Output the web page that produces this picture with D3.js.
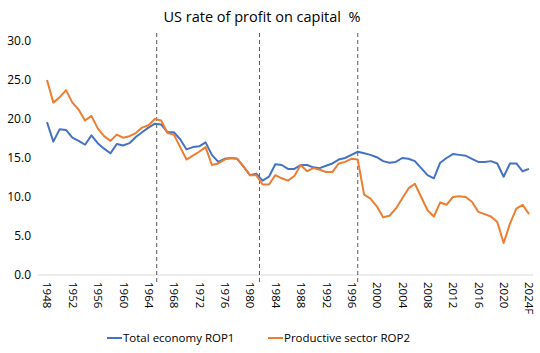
<!DOCTYPE html>
<html>
<head>
<meta charset="utf-8">
<script src="https://cdn.jsdelivr.net/npm/d3@7"></script>
<style>
	body { margin: 0; background: #fff; }
	text { font-family: 'Open Sans', 'Liberation Sans', sans-serif; fill: #000; }
</style>
</head>
<body>
<div id="chart"></div>
<script>
const years = d3.range(1948, 2025);
const totalEconomy = [
	19.6, 17.1, 18.7, 18.6, 17.6, 17.2, 16.7, 17.9, 16.9, 16.2,
	15.6, 16.8, 16.6, 16.9, 17.7, 18.3, 18.9, 19.4, 19.3, 18.3,
	18.3, 17.4, 16.1, 16.4, 16.5, 17.0, 15.4, 14.5, 14.9, 15.0,
	14.9, 13.9, 12.8, 13.0, 12.1, 12.6, 14.2, 14.1, 13.6, 13.6,
	14.1, 14.1, 13.8, 13.7, 14.0, 14.3, 14.8, 15.0, 15.4, 15.8,
	15.6, 15.4, 15.1, 14.6, 14.4, 14.5, 15.0, 14.9, 14.6, 13.7,
	12.8, 12.4, 14.4, 15.0, 15.5, 15.4, 15.3, 14.9, 14.5, 14.5,
	14.6, 14.3, 12.6, 14.3, 14.3, 13.3, 13.6
];
const productiveSector = [
	25.0, 22.1, 22.8, 23.7, 22.1, 21.2, 19.8, 20.4, 18.8, 17.8,
	17.2, 18.0, 17.6, 17.8, 18.2, 18.9, 19.2, 20.0, 19.8, 18.2,
	18.0, 16.4, 14.8, 15.3, 15.8, 16.4, 14.1, 14.3, 14.8, 15.0,
	14.9, 13.9, 12.8, 12.8, 11.6, 11.6, 12.8, 12.4, 12.1, 12.7,
	14.1, 13.3, 13.7, 13.5, 13.2, 13.2, 14.3, 14.5, 14.9, 14.8,
	10.3, 9.8, 8.8, 7.4, 7.6, 8.5, 9.8, 11.1, 11.7, 10.0,
	8.3, 7.5, 9.3, 9.0, 10.0, 10.1, 10.0, 9.4, 8.1, 7.8,
	7.5, 6.8, 4.1, 6.6, 8.5, 9.0, 7.8
];
const tickYears = d3.range(1948, 2025, 4);
const markerYears = [1965.3, 1981.5, 1997];
const yTicks = [0, 5, 10, 15, 20, 25, 30];

const series = [
	{ name: 'Total economy ROP1', values: totalEconomy, color: '#4472c4' },
	{ name: 'Productive sector ROP2', values: productiveSector, color: '#ed7d31' },
];

const W = 540, H = 353;
const svg = d3.select('#chart').append('svg').attr('width', W).attr('height', H);

const x = d3.scaleLinear().domain([1948, 2024]).range([47, 529]);
const y = d3.scaleLinear().domain([0, 30]).range([275, 41]);

// title (keeps the double space before %)
svg.append('text')
	.attr('x', 262)
	.attr('y', 22)
	.attr('text-anchor', 'middle')
	.attr('xml:space', 'preserve')
	.style('white-space', 'pre')
	.style('font-size', '14.5px')
	.text('US rate of profit on capital  %');

// baseline
svg.append('line')
	.attr('x1', 38).attr('x2', 533)
	.attr('y1', y(0)).attr('y2', y(0))
	.attr('stroke', '#d9d9d9').attr('stroke-width', 1);

// y axis
const yAxis = svg.append('g')
	.attr('transform', 'translate(34,0)')
	.call(d3.axisLeft(y).tickValues(yTicks).tickFormat(d3.format('.1f')).tickSize(0).tickPadding(3));
yAxis.select('.domain').remove();
yAxis.selectAll('text').style('font-size', '12px').attr('fill', '#000');

// x axis
const xAxis = svg.append('g')
	.attr('transform', `translate(0,${y(0)})`)
	.call(d3.axisBottom(x).tickValues(tickYears).tickFormat((d) => (d === 2024 ? '2024F' : d)).tickSize(0));
xAxis.select('.domain').remove();
xAxis.selectAll('text')
	.style('font-size', '11.5px')
	.attr('fill', '#000')
	.attr('text-anchor', 'start')
	.attr('transform', 'rotate(90)')
	.attr('x', 7)
	.attr('y', 0)
	.attr('dy', '0.35em');

// dashed markers
svg.selectAll('.marker')
	.data(markerYears)
	.enter()
	.append('line')
	.attr('class', 'marker')
	.attr('x1', (d) => x(d)).attr('x2', (d) => x(d))
	.attr('y1', 33).attr('y2', 284)
	.attr('stroke', '#595959')
	.attr('stroke-width', 1)
	.attr('stroke-dasharray', '4,3');

const line = d3.line()
	.x((d, i) => x(years[i]))
	.y((d) => y(d));

series.forEach((s) => {
	svg.append('path')
		.datum(s.values)
		.attr('fill', 'none')
		.attr('stroke', s.color)
		.attr('stroke-width', 2)
		.attr('stroke-linejoin', 'round')
		.attr('d', line);
});

// legend
const legend = svg.append('g').attr('transform', 'translate(0,338)');
const legendX = [107, 268];
const items = legend.selectAll('g')
	.data(series)
	.enter()
	.append('g')
	.attr('transform', (d, i) => `translate(${legendX[i]},0)`);
items.append('line')
	.attr('x1', 0).attr('x2', 15)
	.attr('y1', 0).attr('y2', 0)
	.attr('stroke', (d) => d.color)
	.attr('stroke-width', 2);
items.append('text')
	.attr('x', 16)
	.attr('y', 0)
	.attr('dy', '0.35em')
	.style('font-size', '11.5px')
	.text((d) => d.name);
</script>
</body>
</html>
